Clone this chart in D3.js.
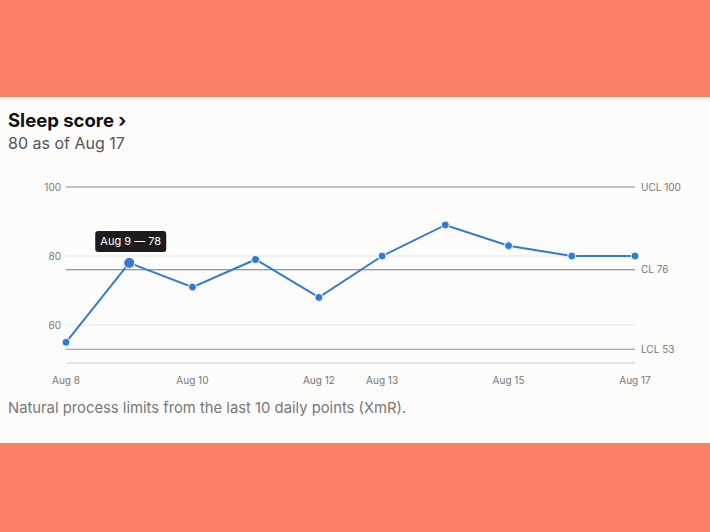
<!DOCTYPE html>
<html><head><meta charset="utf-8">
<script src="https://cdn.jsdelivr.net/npm/d3@7"></script>
<style>
html,body{margin:0;padding:0;background:#fd7f66;}
svg{display:block;font-family:-apple-system,"Inter","Helvetica Neue",Arial,sans-serif;}
</style></head>
<body><svg id="c" width="710" height="532"></svg>
<script>
const dates = ["Aug 8","Aug 9","Aug 10","Aug 11","Aug 12","Aug 13","Aug 14","Aug 15","Aug 16","Aug 17"];
const scores = [55,78,71,79,68,80,89,83,80,80];
const tickDates = ["Aug 8","Aug 10","Aug 12","Aug 13","Aug 15","Aug 17"];
const gridValues = [60,80,100];
const limits = [{name:"UCL",value:100},{name:"CL",value:76},{name:"LCL",value:53}];
const highlight = "Aug 9";

const svg = d3.select("#c");
svg.append("rect").attr("x",0).attr("y",0).attr("width",710).attr("height",532).attr("fill","#fd7f66");
svg.append("rect").attr("x",0).attr("y",97).attr("width",710).attr("height",346).attr("fill","#fcfcfb");

svg.append("text").attr("x",8).attr("y",127).attr("font-size",18.5).attr("font-weight",700).attr("fill","#111").text("Sleep score ›");
svg.append("text").attr("x",8).attr("y",149).attr("font-size",16).attr("fill","#555").text("80 as of Aug 17");
svg.append("text").attr("x",8).attr("y",413).attr("font-size",14.8).attr("fill","#777").text("Natural process limits from the last 10 daily points (XmR).");

const x = d3.scalePoint().domain(dates).range([66,635]);
const y = d3.scaleLinear().domain([49,100]).range([363,187]);

const g = svg.append("g");
g.selectAll(".grid").data(gridValues).join("line")
  .attr("x1",66).attr("x2",635).attr("y1",d=>y(d)).attr("y2",d=>y(d))
  .attr("stroke","#e6e6e4").attr("stroke-width",1);
g.selectAll(".yl").data(gridValues).join("text")
  .attr("x",61).attr("y",d=>y(d)+3.5).attr("text-anchor","end")
  .attr("font-size",10).attr("fill","#777").text(d=>d);
g.append("line").attr("x1",66).attr("x2",635).attr("y1",y(49)).attr("y2",y(49))
  .attr("stroke","#cfcfcd").attr("stroke-width",1);
const limStroke = {UCL:"#b3b3b3",CL:"#7a7a7a",LCL:"#8f8f8f"};
const limWidth = {UCL:1.6,CL:1.1,LCL:1.1};
g.selectAll(".lim").data(limits).join("line")
  .attr("x1",66).attr("x2",635).attr("y1",d=>y(d.value)).attr("y2",d=>y(d.value))
  .attr("stroke",d=>limStroke[d.name]).attr("stroke-width",d=>limWidth[d.name]);
g.selectAll(".limt").data(limits).join("text")
  .attr("x",641).attr("y",d=>y(d.value)+3.5).attr("font-size",10).attr("fill","#777")
  .text(d=>d.name+" "+d.value);
g.selectAll(".xl").data(tickDates).join("text")
  .attr("x",d=>x(d)).attr("y",384).attr("text-anchor","middle")
  .attr("font-size",10).attr("fill","#777").text(d=>d);

const data = dates.map((d,i)=>({date:d,value:scores[i]}));
g.append("path").datum(data)
  .attr("d",d3.line().x(d=>x(d.date)).y(d=>y(d.value)))
  .attr("fill","none").attr("stroke","#2f7bd6").attr("stroke-width",2);
g.selectAll(".pt").data(data).join("circle")
  .attr("cx",d=>x(d.date)).attr("cy",d=>y(d.value))
  .attr("r",d=>d.date===highlight?5.5:4)
  .attr("fill","#2f7bd6").attr("stroke","#fcfcfb").attr("stroke-width",1);

const hd = data.find(d=>d.date===highlight);
const tx = x(hd.date), ty = y(hd.value);
const tip = g.append("g");
tip.append("rect").attr("x",tx-34).attr("y",ty-32).attr("width",71).attr("height",21).attr("rx",3)
  .attr("fill","#1c1c1c");
tip.append("text").attr("x",tx+1.5).attr("y",ty-17.5).attr("text-anchor","middle")
  .attr("font-size",11).attr("fill","#fff").text(hd.date+" — "+hd.value);
</script></body></html>
